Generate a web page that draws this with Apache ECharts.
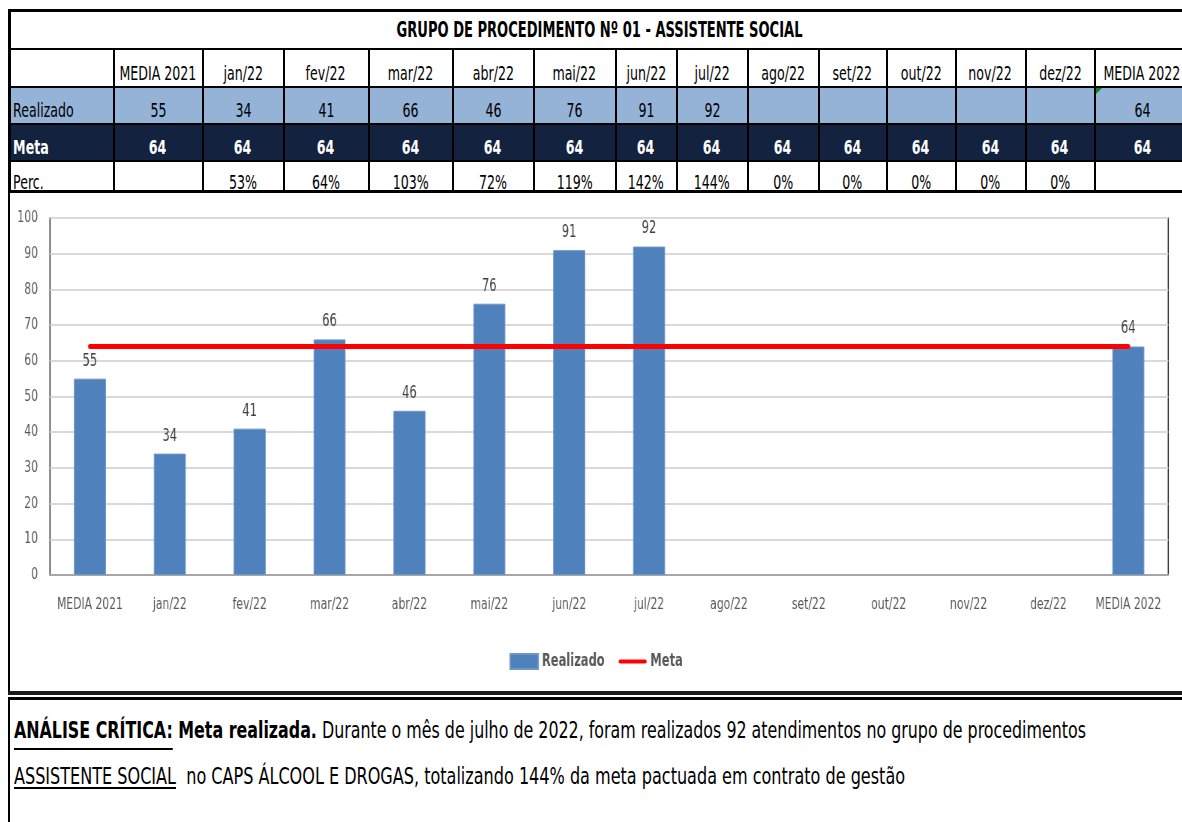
<!DOCTYPE html>
<html>
<head>
<meta charset="utf-8">
<script src="https://cdn.jsdelivr.net/npm/echarts@6/dist/echarts.min.js"></script>
<style>
  html, body { margin: 0; padding: 0; background: #fff; }
  body { width: 1182px; height: 822px; overflow: hidden; position: relative;
         font-family: "Liberation Sans Narrow", "Arial Narrow", "DejaVu Sans Condensed", sans-serif; }
  #tbl { position: absolute; left: 8px; top: 9px; border-collapse: collapse; table-layout: fixed; }
  #tbl td { border: 2px solid #000; padding: 0; vertical-align: bottom;
            white-space: nowrap; overflow: hidden; font-size: 20px; line-height: 26px; color: #000; }
  #tbl td .c { display: flex; justify-content: center; }
  #tbl td.lab .c { justify-content: flex-start; }
  #tbl tr.title td { border-top: 3px solid #000; font-weight: bold; font-size: 22px; height: 36px; vertical-align: middle; }
  #tbl tr.head td { height: 36px; }
  #tbl tr.real td { height: 35px; background: #95B3D7; }
  #tbl tr.meta td { height: 35px; background: #12223F; color: #fff; font-weight: bold; }
  #tbl tr.perc td { height: 28px; border-bottom: 3px solid #000; }
  #tbl td.lab { border-left: 3px solid #000; }
  #tbl td.lab .sq { transform-origin: left center; padding-left: 3px; }
  .sq { display: inline-block; flex: none; transform: scaleX(0.7); }
  #tbl tr.title td .sq { transform: scaleX(0.66); transform-origin: center center; }
  #tbl tr.perc .sq { position: relative; top: 5px; }
  #tbl td.flag { position: relative; }
  #tbl td.flag::before { content: ""; position: absolute; left: 0; top: 0;
            border-top: 6px solid #0A8A0A; border-right: 6px solid transparent; }
  #chartLeft { position: absolute; left: 8px; top: 192px; width: 2px; height: 500px; background: #000; }
  #rule1 { position: absolute; left: 8px; top: 691px; width: 1174px; height: 4px; background: #1a1a1a; }
  #rule2 { position: absolute; left: 8px; top: 697px; width: 1174px; height: 3px; background: #000; }
  #noteLeft { position: absolute; left: 8px; top: 697px; width: 2px; height: 125px; background: #000; }
  /* the chart is laid out wider and compressed horizontally to get narrow lettering */
  #chart { position: absolute; left: 10px; top: 193px; width: 1563px; height: 498px;
           transform: scaleX(0.75); transform-origin: left top; }
  .note { position: absolute; left: 14px; white-space: nowrap; font-size: 23px; line-height: 23px;
          color: #000; transform-origin: left center; }
  #note1 { transform: scaleX(0.767); }
  #note2 { transform: scaleX(0.776); }
  .note b { font-weight: bold; }
  .u1 { text-decoration: underline; text-decoration-thickness: 2px; text-underline-offset: 10px; }
  .u2 { text-decoration: underline; text-decoration-thickness: 2px; text-underline-offset: 3px; }
</style>
</head>
<body>
<table id="tbl"></table>
<div id="chartLeft"></div>
<div id="chart"></div>
<div id="rule1"></div>
<div id="rule2"></div>
<div id="noteLeft"></div>
<div class="note" id="note1" style="top:719px;"><b class="u1">ANÁLISE CRÍTICA:</b><b> Meta realizada.</b> Durante o mês de julho de 2022, foram realizados 92 atendimentos no grupo de procedimentos</div>
<div class="note" id="note2" style="top:765px;"><span class="u2">ASSISTENTE SOCIAL</span>&nbsp; no CAPS ÁLCOOL E DROGAS, totalizando 144% da meta pactuada em contrato de gestão</div>

<script>
// Dados do grupo de procedimento
const titulo = 'GRUPO DE PROCEDIMENTO Nº 01 - ASSISTENTE SOCIAL';
const categorias = ['MEDIA 2021', 'jan/22', 'fev/22', 'mar/22', 'abr/22', 'mai/22', 'jun/22',
                    'jul/22', 'ago/22', 'set/22', 'out/22', 'nov/22', 'dez/22', 'MEDIA 2022'];
const realizado = [55, 34, 41, 66, 46, 76, 91, 92, null, null, null, null, null, 64];
const meta = [64, 64, 64, 64, 64, 64, 64, 64, 64, 64, 64, 64, 64, 64];
const percentual = ['', '53%', '64%', '103%', '72%', '119%', '142%', '144%', '0%', '0%', '0%', '0%', '0%', ''];
const yTicks = { min: 0, max: 100, step: 10 };

// Larguras das colunas da tabela (coluna de rótulos + uma por categoria)
const colWidths = [104, 89, 81, 85, 84, 81, 82, 61, 71, 71, 68, 69, 70, 69, 95];

const FONT = '"Liberation Sans Narrow", "Arial Narrow", "DejaVu Sans Condensed", sans-serif';
const SX = 0.75; // horizontal compression applied to the chart container

// Tabela de resumo
(function buildTable() {
  const tbl = document.getElementById('tbl');
  tbl.style.width = colWidths.reduce((a, b) => a + b, 0) + 'px';
  const cg = document.createElement('colgroup');
  colWidths.forEach(w => { const c = document.createElement('col'); c.style.width = w + 'px'; cg.appendChild(c); });
  tbl.appendChild(cg);
  const sq = t => '<div class="c"><span class="sq">' + t + '</span></div>';
  let html = '<tr class="title"><td colspan="' + (categorias.length + 1) + '" style="border-left:3px solid #000">' + sq(titulo) + '</td></tr>';
  html += '<tr class="head"><td class="lab"></td>' + categorias.map(c => '<td>' + sq(c) + '</td>').join('') + '</tr>';
  html += '<tr class="real"><td class="lab">' + sq('Realizado') + '</td>' +
    realizado.map((v, i) => '<td' + (i === categorias.length - 1 ? ' class="flag"' : '') + '>' + (v == null ? '' : sq(v)) + '</td>').join('') + '</tr>';
  html += '<tr class="meta"><td class="lab">' + sq('Meta') + '</td>' + meta.map(v => '<td>' + sq(v) + '</td>').join('') + '</tr>';
  html += '<tr class="perc"><td class="lab">' + sq('Perc.') + '</td>' + percentual.map(v => '<td>' + (v ? sq(v) : '') + '</td>').join('') + '</tr>';
  tbl.insertAdjacentHTML('beforeend', html);
})();

// Gráfico
const chart = echarts.init(document.getElementById('chart'));
chart.setOption({
  animation: false,
  textStyle: { fontFamily: FONT },
  grid: { left: 40 / SX, right: 14 / SX, top: 25, bottom: 116, show: true, borderColor: '#262626', borderWidth: 1.5 },
  legend: {
    top: 455, left: 'center', itemWidth: 28 / SX, itemHeight: 15, itemGap: 14 / SX,
    textStyle: { fontFamily: FONT, fontSize: 17, fontWeight: 'bold', color: '#595959' },
    data: [
      { name: 'Realizado', icon: 'rect' },
      { name: 'Meta', icon: 'path://M2,0 L36,0 A2,2 0 0 1 36,4 L2,4 A2,2 0 0 1 2,0 Z' }
    ]
  },
  xAxis: {
    type: 'category', data: categorias,
    axisTick: { show: false },
    axisLine: { lineStyle: { color: '#A6A6A6', width: 2 } },
    axisLabel: { color: '#595959', fontSize: 16, margin: 22, interval: 0, fontFamily: FONT }
  },
  yAxis: {
    type: 'value', min: yTicks.min, max: yTicks.max, interval: yTicks.step,
    axisLine: { show: false }, axisTick: { show: false },
    axisLabel: { color: '#595959', fontSize: 16, margin: 12 / SX, fontFamily: FONT },
    splitLine: { lineStyle: { color: '#D9D9D9', width: 2 } }
  },
  series: [
    {
      name: 'Realizado', type: 'bar', data: realizado, barWidth: 32 / SX,
      itemStyle: { color: '#4F81BD', borderColor: '#7096C8', borderWidth: 1 },
      label: { show: true, position: 'top', distance: 9, color: '#404040', fontSize: 17, fontFamily: FONT }
    },
    {
      name: 'Meta', type: 'line', data: meta, symbol: 'none', z: 5,
      lineStyle: { color: '#FF0000', width: 5, cap: 'round' },
      itemStyle: { color: '#FF0000' }
    }
  ]
});
</script>
</body>
</html>
